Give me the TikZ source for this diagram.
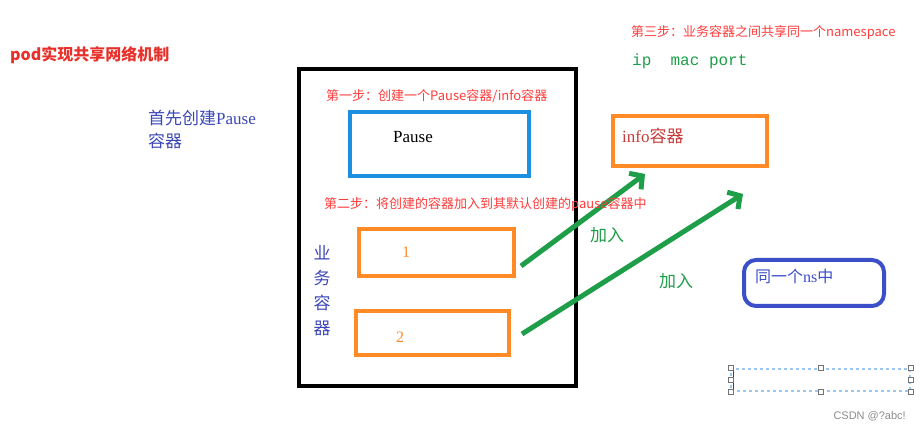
\documentclass[tikz,border=0pt]{standalone}
\usepackage{fontspec}
\setmainfont{Noto Sans CJK SC}
\newfontfamily\serifx{Liberation Serif}
\newfontfamily\monox{Liberation Mono}
\newfontfamily\sansx{Liberation Sans}
\usepackage{tikz}
\usetikzlibrary{arrows.meta,calc,positioning}
\definecolor{noteRed}{HTML}{FF3B3B}
\definecolor{titleRed}{HTML}{E8302A}
\definecolor{infoRed}{HTML}{C83A3A}
\definecolor{textBlue}{HTML}{3B47B8}
\definecolor{pauseBlue}{HTML}{1E90E0}
\definecolor{podOrange}{HTML}{FF8A26}
\definecolor{joinGreen}{HTML}{1E9E48}
\definecolor{nsBlue}{HTML}{3A4FC8}
\definecolor{handleBlue}{HTML}{9CC7F0}

\begin{document}
\begin{tikzpicture}[
  x=1pt, y=-1pt,
  box/.style={draw, inner sep=0pt, line width=4pt},
  note/.style={text=noteRed, inner sep=0pt, anchor=west, font=\fontsize{13}{15}\selectfont},
  bluetext/.style={text=textBlue, inner sep=0pt, font=\fontsize{17}{23}\selectfont},
  greentext/.style={text=joinGreen, inner sep=0pt, font=\fontsize{17}{20}\selectfont},
  joinarrow/.style={draw=joinGreen, line width=5pt, -{Straight Barb[length=9pt,width=20pt]}},
  handle/.style={draw=black!55, fill=white, line width=0.8pt, minimum size=5pt, inner sep=0pt}
]
\useasboundingbox (0,0) rectangle (922,430);

% left notes
\node[text=titleRed, inner sep=0pt, anchor=west, font=\fontsize{16}{18}\selectfont\bfseries] (title) at (10,55) {pod实现共享网络机制};
\node[bluetext, anchor=north west, align=left] (firstpause) at (148,110) {首先创建{\serifx Pause}\\容器};

% the pod
\node[box, minimum width=277pt, minimum height=317pt] (pod) at (437.5,227.5) {};
\node[note] (stepone) at (326,96) {第一步：创建一个Pause容器/info容器};
\node[box, draw=pauseBlue, minimum width=179pt, minimum height=64pt] (pause) at (439.5,144) {};
\node[inner sep=0pt, font=\serifx\fontsize{17}{20}\selectfont] (pausetext) at (413,137) {Pause};

\node[box, draw=podOrange, minimum width=155pt, minimum height=47pt] (one) at (436.5,252.5) {};
\node[box, draw=podOrange, minimum width=153pt, minimum height=44pt] (two) at (432.5,333) {};
\node[text=podOrange, inner sep=0pt, font=\serifx\fontsize{16}{18}\selectfont] (onetext) at (406,252) {1};
\node[text=podOrange, inner sep=0pt, font=\serifx\fontsize{16}{18}\selectfont] (twotext) at (400,337) {2};
\node[bluetext, align=center, font=\fontsize{17}{25}\selectfont] (bizlabel) at (322,291) {业\\务\\容\\器};

% right side
\node[note] (stepthree) at (631,32) {第三步：业务容器之间共享同一个namespace};
\node[text=joinGreen, inner sep=0pt, anchor=west, font=\monox\fontsize{16}{18}\selectfont] (nslist) at (632,61) {ip\ \ mac port};
\node[box, draw=podOrange, minimum width=154pt, minimum height=50pt] (info) at (690,141) {};
\node[text=infoRed, inner sep=0pt, anchor=west, font=\fontsize{17}{20}\selectfont] (infotext) at (622,136) {{\serifx info}容器};

\coordinate (onestart) at ($(one.east)+(5,13.5)$);
\coordinate (twostart) at ($(two.east)+(11,1)$);
\coordinate (oneend) at ($(info.south)+(-45,6)$);
\coordinate (twoend) at ($(info.south)+(53,26)$);
\draw[joinarrow] (onestart) -- (oneend);
\draw[joinarrow] (twostart) -- (twoend);
\node[note] (steptwo) at (324,204) {第二步：将创建的容器加入到其默认创建的pause容器中};
\node[greentext] (joinone) at (607,235) {加入};
\node[greentext] (jointwo) at (676,281) {加入};

\node[box, draw=nsBlue, rounded corners=12pt, minimum width=140pt, minimum height=46pt] (ns) at (814,283) {};
\node[text=nsBlue, inner sep=0pt, anchor=west, font=\fontsize{16}{18}\selectfont] (nstext) at (755,276) {同一个{\serifx ns}中};

% selection frame
\node[draw=handleBlue, dashed, line width=1.2pt, minimum width=179pt, minimum height=22pt, inner sep=0pt] (frame) at (820.5,380) {};
\draw[black!75, line width=1pt] (733,371) -- (733,389);
\foreach \a in {north west,north,north east,west,east,south west,south,south east}
  \node[handle] at (frame.\a) {};
\node[text=black!45, inner sep=0pt, anchor=east, font=\sansx\fontsize{11}{13}\selectfont] (mark) at (906,416) {CSDN @?abc!};
\end{tikzpicture}
\end{document}
